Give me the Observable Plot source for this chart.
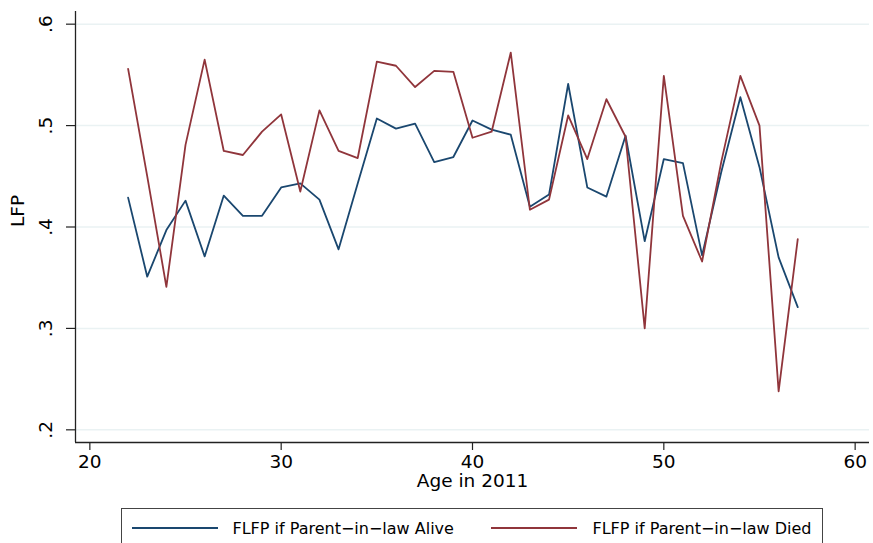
<!DOCTYPE html>
<html>
<head>
<meta charset="utf-8">
<script src="https://cdn.jsdelivr.net/npm/d3@7"></script>
<script src="https://cdn.jsdelivr.net/npm/@observablehq/plot@0.6"></script>
<style>
  html, body { margin: 0; padding: 0; background: #fff; overflow: hidden; }
  #chart svg { display: block; }
  #legend { position: relative; margin-left: 120.5px; margin-top: 7.5px; width: 702px; height: 60px;
            border: 1px solid #444; box-sizing: border-box; font-family: "DejaVu Sans", sans-serif; font-size: 16px; color: #000; }
  .sw { position: absolute; height: 2px; top: 18px; width: 86px; }
  .lab { position: absolute; top: 19px; transform: translateY(-50%); white-space: nowrap; }
</style>
</head>
<body>
<div id="chart"></div>
<div id="legend">
  <div class="sw" style="left:10px;background:#1a476f"></div>
  <div class="lab" style="left:111px">FLFP if Parent−in−law Alive</div>
  <div class="sw" style="left:369px;background:#90353b"></div>
  <div class="lab" style="left:471px">FLFP if Parent−in−law Died</div>
</div>
<script>
const ages = [22,23,24,25,26,27,28,29,30,31,32,33,34,35,36,37,38,39,40,41,42,43,44,45,46,47,48,49,50,51,52,53,54,55,56,57];
const alive = [0.429,0.351,0.397,0.426,0.371,0.431,0.411,0.411,0.439,0.443,0.427,0.378,0.443,0.507,0.497,0.502,0.464,0.469,0.505,0.496,0.491,0.420,0.432,0.541,0.439,0.430,0.490,0.386,0.467,0.463,0.372,0.454,0.528,0.459,0.370,0.321];
const died  = [0.556,0.450,0.341,0.481,0.565,0.475,0.471,0.494,0.511,0.435,0.515,0.475,0.468,0.563,0.559,0.538,0.554,0.553,0.488,0.494,0.572,0.417,0.427,0.510,0.467,0.526,0.489,0.300,0.549,0.411,0.366,0.464,0.549,0.500,0.238,0.388];
const xTicks = [20,30,40,50,60];
const yTicks = [0.2,0.3,0.4,0.5,0.6];
const yFmt = d => d3.format(".1f")(d).replace(/^0/, "");

const xDom = [19.25, 60.75];
const yDom = [0.1875, 0.6125];

const chart = Plot.plot({
  width: 873,
  height: 500,
  marginLeft: 75,
  marginRight: 4,
  marginTop: 11,
  marginBottom: 58,
  x: {domain: xDom, axis: null},
  y: {domain: yDom, axis: null},
  style: {fontFamily: "DejaVu Sans, sans-serif", fontSize: "18.5px", color: "#000", background: "#fff"},
  marks: [
    Plot.gridY(yTicks, {stroke: "#eaf2f3", strokeOpacity: 1, strokeWidth: 1.5}),
    Plot.axisY(yTicks, {tickSize: 9, tickFormat: () => "", label: null, stroke: "#222", strokeWidth: 1.2}),
    Plot.text(yTicks, {x: xDom[0], y: d => d, text: yFmt, rotate: -90, dx: -29, textAnchor: "middle", lineAnchor: "middle", fontSize: 18.5, fill: "#000"}),
    Plot.axisX(xTicks, {tickSize: 8, tickPadding: 4, label: null, stroke: "#222", strokeWidth: 1.2, fontSize: 18.5, fill: "#000"}),
    Plot.ruleX([xDom[0]], {stroke: "#222", strokeWidth: 1.3}),
    Plot.ruleY([yDom[0]], {stroke: "#222", strokeWidth: 1.3}),
    Plot.lineY(alive, {x: ages, y: d => d, stroke: "#1a476f", strokeWidth: 1.8}),
    Plot.lineY(died, {x: ages, y: d => d, stroke: "#90353b", strokeWidth: 1.8}),
    Plot.text(["LFP"], {text: d => d, frameAnchor: "left", dx: -57, rotate: -90, fontSize: 18.5, fill: "#000"}),
    Plot.text(["Age in 2011"], {text: d => d, frameAnchor: "bottom", dy: 44.5, fontSize: 18.5, fill: "#000"})
  ]
});
document.getElementById("chart").append(chart);
</script>
</body>
</html>
